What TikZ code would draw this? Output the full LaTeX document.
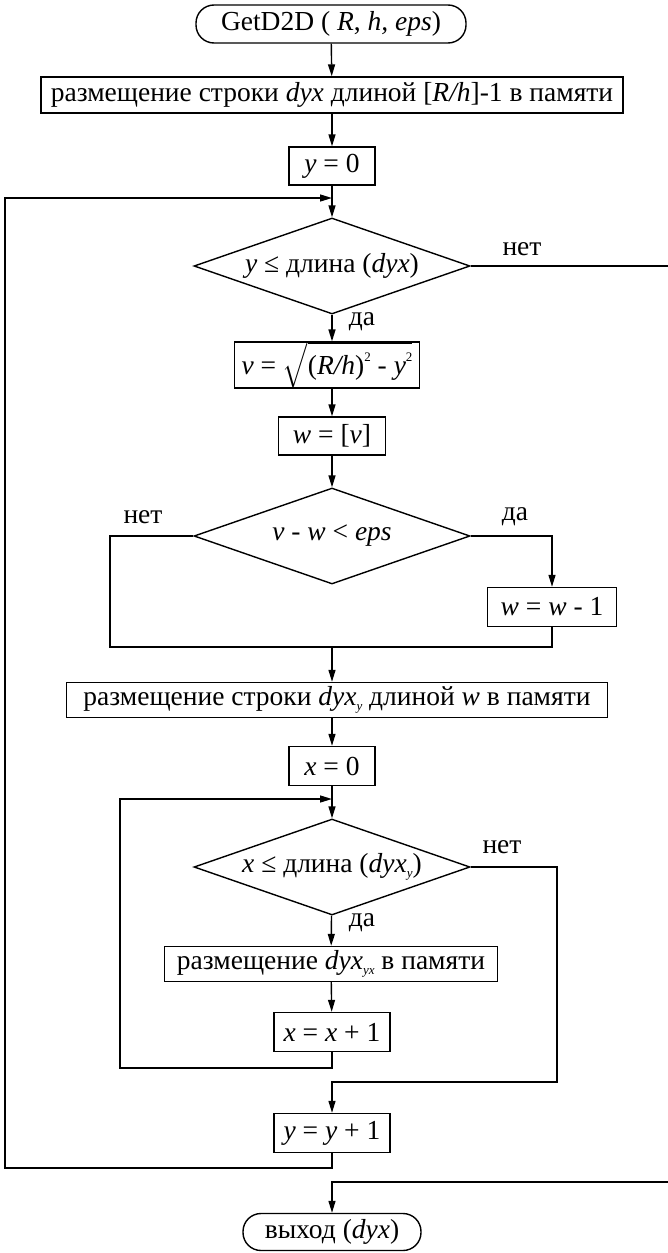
\documentclass[tikz,border=0pt]{standalone}
\usepackage{exscale}
\usepackage{fontspec}
\setmainfont{Liberation Serif}
\usetikzlibrary{arrows.meta,shapes.geometric,calc}
\newcommand\mysub[1]{\raisebox{-0.45ex}{\fontsize{13}{13}\selectfont\textit{#1}}}
\newcommand\mysup[1]{\raisebox{1.05ex}{\fontsize{13}{13}\selectfont #1}}
\begin{document}
\begin{tikzpicture}[x=1pt,y=-1pt,line width=1.4pt,
  every node/.style={font=\fontsize{27.5}{30}\selectfont},
  procbox/.style={draw,rectangle,inner sep=0pt},
  term/.style={draw,rectangle,rounded corners=18pt,inner sep=0pt},
  dec/.style={draw,diamond,aspect=2.9,inner sep=0pt,minimum width=276pt,minimum height=96pt},
  lab/.style={inner sep=0pt},
  arr/.style={-{Triangle[length=12pt,width=7pt]}}]
\useasboundingbox (0,0) rectangle (667,1253);
\node[term,minimum width=270pt,minimum height=38pt] (t1) at (331,24) {GetD2D ( \textit{R}, \textit{h, eps})};
\node[procbox,minimum width=582pt,minimum height=36pt] (b1) at (332,95) {размещение строки \textit{dyx} длиной [\textit{R/h}]-1 в памяти};
\node[procbox,minimum width=86pt,minimum height=38pt] (b2) at (332,166) {\textit{y} = 0};
\node[dec] (d1) at (332,266) {\textit{y} ≤ длина (\textit{dyx})};
\node[procbox,minimum width=185pt,minimum height=38pt] (b3) at (327,365) {\textit{v} = $\sqrt{\mbox{(\textit{R/h})\mysup{2} - \textit{y}\mysup{2}}}$};
\node[procbox,minimum width=107pt,minimum height=38pt] (b4) at (332,436) {\textit{w} = [\textit{v}]};
\node[dec] (d2) at (332,536) {\textit{v} - \textit{w} < \textit{eps}};
\node[procbox,minimum width=129pt,minimum height=39pt] (b5) at (552,607) {\textit{w} = \textit{w} - 1};
\node[procbox,minimum width=541pt,minimum height=35pt] (b6) at (337,700) {размещение строки \textit{dyx}\mysub{y} длиной \textit{w} в памяти};
\node[procbox,minimum width=86pt,minimum height=39pt] (b7) at (332,766) {\textit{x} = 0};
\node[dec] (d3) at (332,867) {\textit{x} ≤ длина (\textit{dyx}\mysub{y})};
\node[procbox,minimum width=333pt,minimum height=35pt] (b8) at (331,964) {размещение \textit{dyx}\mysub{yx} в памяти};
\node[procbox,minimum width=116pt,minimum height=39pt] (b9) at (332,1032) {\textit{x} = \textit{x} + 1};
\node[procbox,minimum width=116pt,minimum height=39pt] (b10) at (332,1133) {\textit{y} = \textit{y} + 1};
\node[term,minimum width=178pt,minimum height=37pt] (t2) at (332,1232) {выход (\textit{dyx})};
% labels
\node[lab] (l1) at (522,249) {нет};
\node[lab] (l2) at (362,322) {да};
\node[lab] (l3) at (143,517) {нет};
\node[lab] (l4) at (515,517) {да};
\node[lab] (l5) at (502,847) {нет};
\node[lab] (l6) at (362,923) {да};
% coordinates
\coordinate (j1) at (332,198);
\coordinate (j2) at (332,799);
\coordinate (m2) at (332,647);
\coordinate (m2l) at (110,647);
\coordinate (c1) at (5,1168);
\coordinate (c2) at (120,1068);
\coordinate (c3) at (557,1082);
\coordinate (c4) at (680,1182);
% connectors
\draw[arr] (t1) -- (b1);
\draw[arr] (b1) -- (b2);
\draw[arr] (b2) -- (d1);
\draw[arr] (d1.south) -- (d1.south |- b3.north);
\draw[arr] (b3.south -| b4) -- (b4);
\draw[arr] (b4) -- (d2);
\draw[arr] (d2.east) -| (b5.north);
\draw (d2.west) -| (m2l) -| (b5.south);
\draw[arr] (m2) -- (m2 |- b6.north);
\draw[arr] (b6.south -| m2) -- (b7);
\draw[arr] (b7) -- (d3);
\draw[arr] (d3) -- (b8);
\draw[arr] (b8) -- (b9);
\draw[arr] (b9.south) |- (c2) |- (j2);
\draw[arr] (d3.east) -| (c3) -| (b10.north);
\draw[arr] (b10.south) |- (c1) |- (j1);
\draw[arr] (d1.east) -| (c4) -| (t2.north);
\end{tikzpicture}
\end{document}
